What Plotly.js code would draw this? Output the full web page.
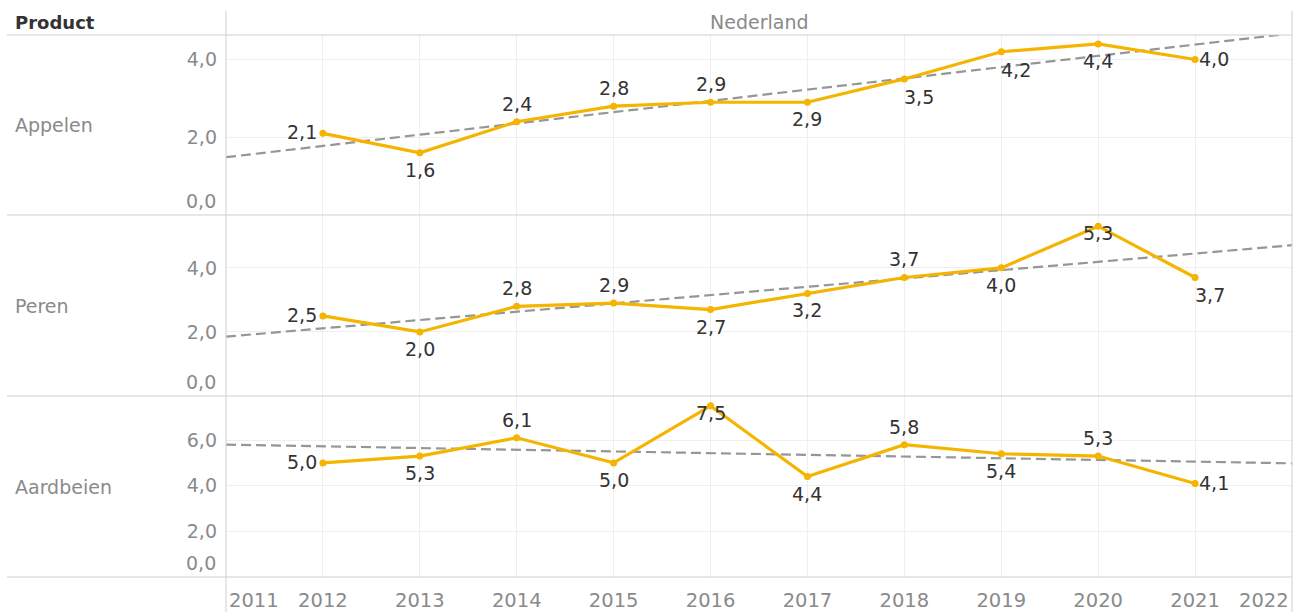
<!DOCTYPE html>
<html>
<head>
<meta charset="utf-8">
<script src="https://cdn.plot.ly/plotly-3.0.1.min.js"></script>
<style>
html,body{margin:0;padding:0;background:#fff;}
#chart{width:1299px;height:612px;}
</style>
</head>
<body>
<div id="chart"></div>
<script>
// ---- data ----
const years = [2012, 2013, 2014, 2015, 2016, 2017, 2018, 2019, 2020, 2021];
const products = ['Appelen', 'Peren', 'Aardbeien'];
const appelen = [2.1, 1.6, 2.4, 2.8, 2.9, 2.9, 3.5, 4.2, 4.4, 4.0];
const peren = [2.5, 2.0, 2.8, 2.9, 2.7, 3.2, 3.7, 4.0, 5.3, 3.7];
const aardbeien = [5.0, 5.3, 6.1, 5.0, 7.5, 4.4, 5.8, 5.4, 5.3, 4.1];
const country = 'Nederland';
const rowHeader = 'Product';
const edgeYearLabels = ['2011', '2022'];

// ---- styling / layout config ----
const FONT = 'DejaVu Sans';
const LINE = '#f4b400';
const TREND = '#969696';
const GRID = '#efefef';
const BORDER = '#cfcfcf';
const TICKC = '#8a8a8a';
const LABELC = '#333333';
const xRange = [2011, 2022];
const yRanges = [[0, 4.63], [0, 5.65], [0, 7.93]];
const yTicks = [[2, 4], [2, 4], [2, 4, 6]];
const domains = [[0.6679, 1], [0.3339, 0.6679], [0, 0.3339]];
const labelPos = [
  ['L','B','T','T','T','B','BR','BR','B','R'],
  ['L','B','T','T','B','B','T','B','C','BR'],
  ['L','B','T','B','C','B','T','B','T','R']
];
const series = [appelen, peren, aardbeien];
const axisIds = ['y', 'y2', 'y3'];

function fmt(v) { return v.toFixed(1).replace('.', ','); }

function linreg(xs, ys) {
  const n = xs.length;
  const mx = xs.reduce((a, b) => a + b, 0) / n;
  const my = ys.reduce((a, b) => a + b, 0) / n;
  let sxy = 0, sxx = 0;
  for (let i = 0; i < n; i++) { sxy += (xs[i] - mx) * (ys[i] - my); sxx += (xs[i] - mx) ** 2; }
  const b = sxy / sxx;
  return x => my + b * (x - mx);
}

const traces = [];
const annotations = [];
series.forEach((vals, k) => {
  const yref = axisIds[k];
  const f = linreg(years, vals);
  traces.push({
    x: xRange, y: xRange.map(f), yaxis: yref, xaxis: 'x',
    mode: 'lines', line: {color: TREND, width: 2.2, dash: '10px,5px'},
    hoverinfo: 'skip', showlegend: false
  });
  traces.push({
    x: years, y: vals, yaxis: yref, xaxis: 'x',
    mode: 'lines+markers', line: {color: LINE, width: 3.2},
    marker: {color: LINE, size: 7}, showlegend: false, cliponaxis: false
  });
  vals.forEach((v, i) => {
    const p = labelPos[k][i];
    const a = {x: years[i], y: v, xref: 'x', yref: yref, text: fmt(v), showarrow: false,
      font: {family: FONT, size: 19, color: LABELC}, xanchor: 'center', yanchor: 'middle'};
    if (p === 'T') { a.yanchor = 'bottom'; a.yshift = 5; }
    if (p === 'B') { a.yanchor = 'top'; a.yshift = -4; }
    if (p === 'L') { a.xanchor = 'right'; a.xshift = -4; a.yshift = 1; }
    if (p === 'R') { a.xanchor = 'left'; a.xshift = 2; }
    if (p === 'BR') { a.xanchor = 'left'; a.xshift = -2; a.yanchor = 'top'; a.yshift = -5; }
    if (p === 'C') { a.yshift = -7; }
    annotations.push(a);
  });
  // row label
  annotations.push({x: -0.1995, y: (domains[k][0] + domains[k][1]) / 2, xref: 'paper', yref: 'paper',
    text: products[k], showarrow: false, xanchor: 'left', yanchor: 'middle',
    font: {family: FONT, size: 19, color: TICKC}});
  // zero tick label, kept inside the panel
  annotations.push({x: 0, y: 0, xref: 'paper', yref: yref, text: fmt(0), showarrow: false,
    xanchor: 'right', yanchor: 'middle', xshift: -8, yshift: 14,
    font: {family: FONT, size: 19, color: TICKC}});
});

// edge year labels
annotations.push({x: xRange[0], y: 0, xref: 'x', yref: 'paper', text: edgeYearLabels[0], showarrow: false,
  xanchor: 'left', yanchor: 'middle', xshift: 1, yshift: -23, font: {family: FONT, size: 19.5, color: TICKC}});
annotations.push({x: xRange[1], y: 0, xref: 'x', yref: 'paper', text: edgeYearLabels[1], showarrow: false,
  xanchor: 'right', yanchor: 'middle', xshift: -1, yshift: -23, font: {family: FONT, size: 19.5, color: TICKC}});
// headers
annotations.push({x: -0.2054, y: 1, xref: 'paper', yref: 'paper', text: '<b>' + rowHeader + '</b>', showarrow: false,
  xanchor: 'left', yanchor: 'middle', xshift: 6, yshift: 13, font: {family: FONT, size: 18, color: LABELC}});
annotations.push({x: 0.5, y: 1, xref: 'paper', yref: 'paper', text: country, showarrow: false,
  xanchor: 'center', yanchor: 'middle', yshift: 13, font: {family: FONT, size: 19, color: TICKC}});

const shapes = [];
[1, 0.6679, 0.3339, 0].forEach(y => shapes.push({type: 'line', xref: 'paper', yref: 'paper',
  x0: -0.2054, x1: 1, y0: y, y1: y, line: {color: BORDER, width: 1}}));
[0, 1].forEach(x => shapes.push({type: 'line', xref: 'paper', yref: 'paper',
  x0: x, x1: x, y0: -0.0646, y1: 1.0443, line: {color: BORDER, width: 1}}));

const layout = {
  width: 1299, height: 612,
  margin: {l: 226, r: 7, t: 35, b: 35},
  paper_bgcolor: '#fff', plot_bgcolor: '#fff',
  separators: ',.',
  showlegend: false,
  font: {family: FONT},
  xaxis: {range: xRange, anchor: 'y3', tickvals: years, ticktext: years.map(String),
    showgrid: true, gridcolor: GRID, zeroline: false, showline: false, ticks: '',
    tickfont: {family: FONT, size: 19.5, color: TICKC}, ticklabelstandoff: 9, fixedrange: true},
  annotations: annotations,
  shapes: shapes
};
axisIds.forEach((id, k) => {
  const key = k === 0 ? 'yaxis' : 'yaxis' + (k + 1);
  layout[key] = {domain: domains[k], range: yRanges[k], tickvals: yTicks[k], tickformat: '.1f',
    showgrid: true, gridcolor: GRID, zeroline: false, showline: false, ticks: '',
    ticklabelstandoff: 8, tickfont: {family: FONT, size: 19, color: TICKC}, anchor: 'x', fixedrange: true};
});

Plotly.newPlot('chart', traces, layout, {displayModeBar: false, staticPlot: true});
</script>
</body>
</html>
